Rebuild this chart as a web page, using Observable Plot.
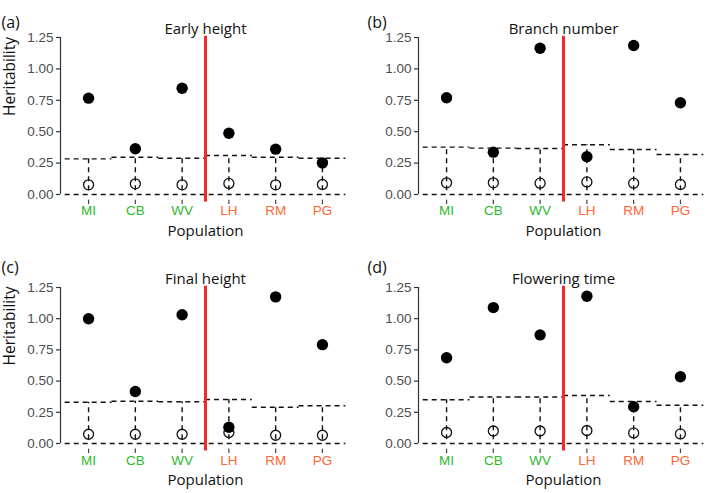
<!doctype html>
<html>
<head>
<meta charset="utf-8">
<style>
  body { margin: 0; background: #fff; }
  #fig { position: relative; width: 709px; height: 493px; background: #fff; }
  .panel { position: absolute; }
  .panel svg { overflow: visible; }
</style>
</head>
<body>
<div id="fig"></div>
<script src="https://cdn.jsdelivr.net/npm/d3@7"></script>
<script src="https://cdn.jsdelivr.net/npm/@observablehq/plot@0.6"></script>
<script>
  const populations = ["MI", "CB", "WV", "LH", "RM", "PG"];
  const popColors = ["#2fb82f", "#2fb82f", "#2fb82f", "#ff6633", "#ff6633", "#ff6633"];
  const yTicks = [0, 0.25, 0.5, 0.75, 1, 1.25];

  // observed heritability (filled dots)
  const earlyObs = [0.767, 0.364, 0.846, 0.488, 0.361, 0.252];
  const branchObs = [0.770, 0.337, 1.165, 0.300, 1.186, 0.730];
  const finalObs = [1.000, 0.417, 1.032, 0.130, 1.175, 0.792];
  const flowerObs = [0.687, 1.089, 0.870, 1.180, 0.295, 0.535];

  // null mean (open circles)
  const earlyNull = [0.077, 0.085, 0.077, 0.088, 0.077, 0.080];
  const branchNull = [0.093, 0.093, 0.090, 0.100, 0.090, 0.080];
  const finalNull = [0.074, 0.074, 0.074, 0.088, 0.066, 0.066];
  const flowerNull = [0.088, 0.100, 0.100, 0.104, 0.085, 0.077];

  // null upper limit (dashed steps)
  const earlyUpper = [0.284, 0.297, 0.289, 0.310, 0.297, 0.289];
  const branchUpper = [0.377, 0.369, 0.366, 0.396, 0.358, 0.318];
  const finalUpper = [0.330, 0.338, 0.335, 0.352, 0.290, 0.302];
  const flowerUpper = [0.350, 0.372, 0.372, 0.385, 0.336, 0.306];

  const nullLower = [0.03, 0.03, 0.03, 0.03, 0.03, 0.03];

  const panels = [
    { letter: "(a)", title: "Early height", obs: earlyObs, nul: earlyNull, up: earlyUpper, left: 0, top: 0, h: 245, mt: 37, ylab: true },
    { letter: "(b)", title: "Branch number", obs: branchObs, nul: branchNull, up: branchUpper, left: 358, top: 0, h: 245, mt: 37, ylab: false },
    { letter: "(c)", title: "Final height", obs: finalObs, nul: finalNull, up: finalUpper, left: 0, top: 245, h: 248, mt: 42, ylab: true },
    { letter: "(d)", title: "Flowering time", obs: flowerObs, nul: flowerNull, up: flowerUpper, left: 358, top: 245, h: 248, mt: 42, ylab: false }
  ];

  const dash = "5,4";
  const ink = "#111";
  const labelFont = "Open Sans";

  for (const p of panels) {
    const rows = populations.map((name, k) => ({
      i: k + 1, name, color: popColors[k],
      obs: p.obs[k], nul: p.nul[k], up: p.up[k], lo: nullLower[k]
    }));
    const width = p.left === 0 ? 354 : 351;
    const marginBottom = p.top === 0 ? 51 : 50;

    const marks = [
      // y axis
      Plot.axisY({ticks: yTicks, tickFormat: d3.format(".2f"), tickSize: 4, tickPadding: 3,
        fill: "#4d4d4d", stroke: "#333", strokeWidth: 1.2, fontSize: 13.5, label: null}),
      Plot.ruleX([0.4], {y1: 0, y2: 1.25, stroke: "#333", strokeWidth: 1.2}),
      // x ticks
      Plot.ruleX(rows, {x: "i", y1: -0.045, y2: -0.08, stroke: "#444", strokeWidth: 1.2}),
      Plot.text(rows, {x: "i", text: "name", fill: "color", frameAnchor: "bottom",
        dy: p.top === 0 ? 20 : 21, fontSize: 13.5, fontFamily: "Liberation Sans"}),
      // null distribution
      Plot.ruleY([0], {x1: 0.5, x2: 6.5, stroke: ink, strokeWidth: 1.4, strokeDasharray: dash}),
      Plot.ruleY(rows, {y: "up", x1: d => d.i - 0.5, x2: d => d.i + 0.5, stroke: ink, strokeWidth: 1.4, strokeDasharray: dash}),
      Plot.ruleX(rows, {x: "i", y1: "lo", y2: "up", stroke: ink, strokeWidth: 1.4, strokeDasharray: dash}),
      // split between regions
      Plot.ruleX([3.5], {y1: -0.06, y2: 1.26, stroke: "#ee2a2e", strokeWidth: 3}),
      Plot.dot(rows, {x: "i", y: "nul", r: 5, fill: "none", stroke: ink, strokeWidth: 1.3}),
      Plot.dot(rows, {x: "i", y: "obs", r: 5.7, fill: "#000"}),
      // labels
      Plot.text([p.title], {frameAnchor: "top", dy: -14, fontSize: 15, fontFamily: labelFont, fill: "#111"}),
      Plot.text([p.letter], {frameAnchor: "top-left", textAnchor: "start", dx: p.left === 0 ? -59 : -51,
        dy: 16 - p.mt, fontSize: 16, fontFamily: labelFont, fill: "#111"}),
      Plot.text(["Population"], {frameAnchor: "bottom", dy: 41, fontSize: 15, fontFamily: labelFont, fill: "#111"})
    ];
    if (p.ylab) {
      marks.push(Plot.text(["Heritability"], {frameAnchor: "left", dx: -50, rotate: -90,
        fontSize: 15.5, fontFamily: labelFont, fill: "#111"}));
    }

    const chart = Plot.plot({
      width,
      height: p.h,
      marginLeft: 60,
      marginRight: width - 60 - 290,
      marginTop: p.mt,
      marginBottom,
      style: {fontSize: "13.5px", fontFamily: "Liberation Sans", background: "transparent"},
      x: {domain: [0.4, 6.6], axis: null},
      y: {domain: [0, 1.25]},
      color: {type: "identity"},
      marks
    });

    const div = document.createElement("div");
    div.className = "panel";
    div.style.left = p.left + "px";
    div.style.top = p.top + "px";
    div.append(chart);
    document.querySelector("#fig").append(div);
  }
</script>
</body>
</html>
